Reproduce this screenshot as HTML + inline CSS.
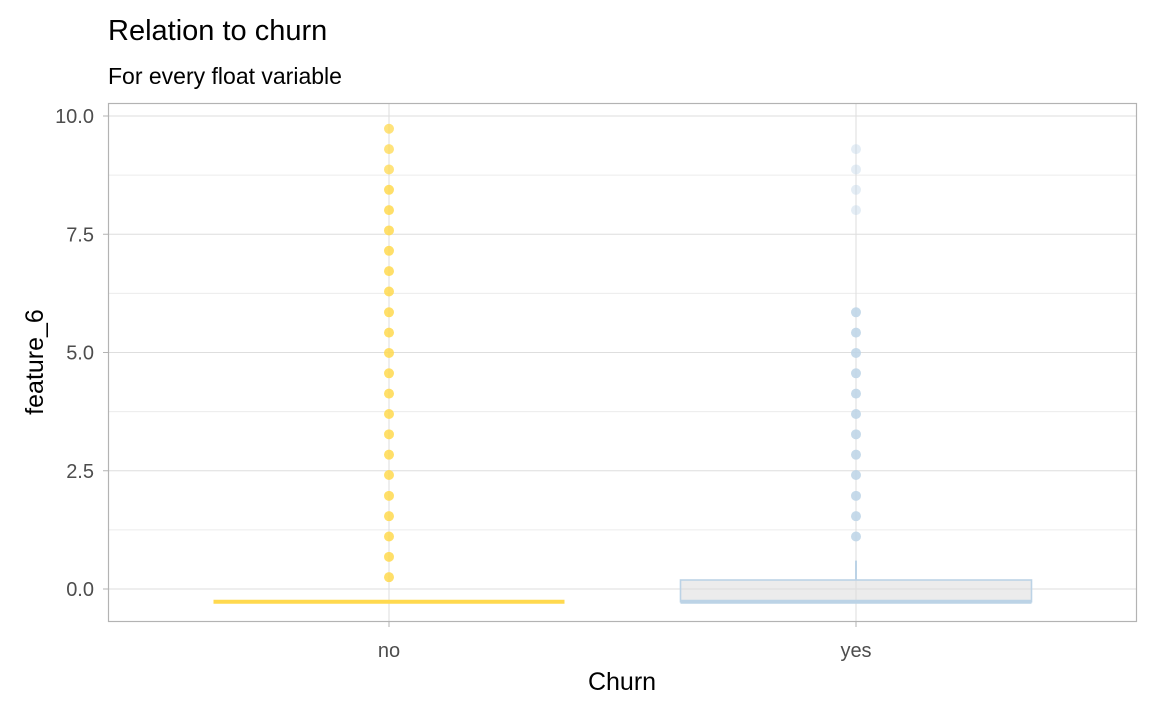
<!DOCTYPE html>
<html><head><meta charset="utf-8"><style>
body{margin:0;background:#fff;font-family:"Liberation Sans",Arial,sans-serif}
</style></head><body>
<svg id="chart" width="1152" height="711" xmlns="http://www.w3.org/2000/svg" font-family="Liberation Sans, Arial, sans-serif">
<text x="108" y="40" font-size="29" fill="#000">Relation to churn</text>
<text x="108" y="84" font-size="23" fill="#000">For every float variable</text>
<g id="grid"></g>
<g id="marks"></g>
<rect x="108.5" y="103.5" width="1028" height="518" fill="none" stroke="#b3b3b3" stroke-width="1.2"/>
<g id="axes"></g>
<text x="622" y="690" font-size="25" text-anchor="middle" fill="#000">Churn</text>
<text transform="translate(43,362) rotate(-90)" font-size="25" text-anchor="middle" fill="#000">feature_6</text>
</svg>
<script>
const categories = ["no", "yes"];
const yTicks = [0, 2.5, 5, 7.5, 10];
const yTickLabels = ["0.0", "2.5", "5.0", "7.5", "10.0"];
const boxLow = [-0.27, -0.27];
const boxQ1 = [-0.27, -0.27];
const boxMedian = [-0.27, -0.27];
const boxQ3 = [-0.27, 0.19];
const boxHigh = [-0.27, 0.6];
const outliersNo = [9.73,9.3,8.87,8.44,8.01,7.58,7.15,6.72,6.29,5.85,5.42,4.99,4.56,4.13,3.7,3.27,2.84,2.41,1.97,1.54,1.11,0.68,0.25];
const outliersYes = [9.3,8.87,8.44,8.01,5.85,5.42,4.99,4.56,4.13,3.7,3.27,2.84,2.41,1.97,1.54,1.11];
const NS="http://www.w3.org/2000/svg";
const y = v => 589 - v*47.3;
const x = i => 389 + i*467;
const halfW = 175.5;
const colors = ["#ffd94f","#bcd3e6"];
function mk(tag, attrs, parent){const e=document.createElementNS(NS,tag);for(const k in attrs)e.setAttribute(k,attrs[k]);parent.appendChild(e);return e;}
const grid=document.getElementById('grid'), marks=document.getElementById('marks'), axes=document.getElementById('axes');
for(let t=0;t<yTicks.length;t++){
  const l=mk('line',{x1:108,x2:1137,y1:y(yTicks[t]),y2:y(yTicks[t]),stroke:'#dedede','stroke-width':1},grid);
  
  
  if(t<yTicks.length-1){const mv=(yTicks[t]+yTicks[t+1])/2;
    const m=mk('line',{x1:108,x2:1137,y1:y(mv),y2:y(mv),stroke:'#ececec','stroke-width':1},grid);
    
    }
  const tk=mk('line',{x1:103,x2:108,y1:y(yTicks[t]),y2:y(yTicks[t]),stroke:'#b3b3b3'},axes);
  
  
  const tx=mk('text',{x:94,y:y(yTicks[t])+7,'font-size':20,'text-anchor':'end',fill:'#4d4d4d'},axes);
  tx.textContent=yTickLabels[t];
  
  
}
categories.forEach((c,i)=>{
  const g=mk('line',{x1:x(i),x2:x(i),y1:103,y2:622,stroke:'#dedede'},grid);
  
  
  const tk=mk('line',{x1:x(i),x2:x(i),y1:622,y2:627,stroke:'#b3b3b3'},axes);
  
  
  const tx=mk('text',{x:x(i),y:657,'font-size':20,'text-anchor':'middle',fill:'#4d4d4d'},axes);
  tx.textContent=c;
  
  
  const col=colors[i];
  const wh=mk('line',{x1:x(i),x2:x(i),y1:y(boxQ3[i]),y2:y(boxHigh[i]),stroke:col,'stroke-width':2},marks);
  
  
  const bx=mk('rect',{x:x(i)-halfW,y:y(boxQ3[i]),width:halfW*2,height:Math.max(0,y(boxQ1[i])-y(boxQ3[i])),fill:'rgba(220,220,220,0.55)',stroke:col,'stroke-width':1.6},marks);
  
  
  const md=mk('line',{x1:x(i)-halfW,x2:x(i)+halfW,y1:y(boxMedian[i]),y2:y(boxMedian[i]),stroke:col,'stroke-width':4},marks);
  
  
});
[outliersNo,outliersYes].forEach((arr,i)=>{
  arr.forEach((v,j)=>{
    let op=0.85; if(i===1) op = v>7.5?0.4:0.85; if(i===0&&v>8.6) op=0.75;
    const p=mk('circle',{cx:x(i),cy:y(v),r:5,fill:colors[i],'fill-opacity':op},marks);
    
    
  });
});
</script>
</body></html>
